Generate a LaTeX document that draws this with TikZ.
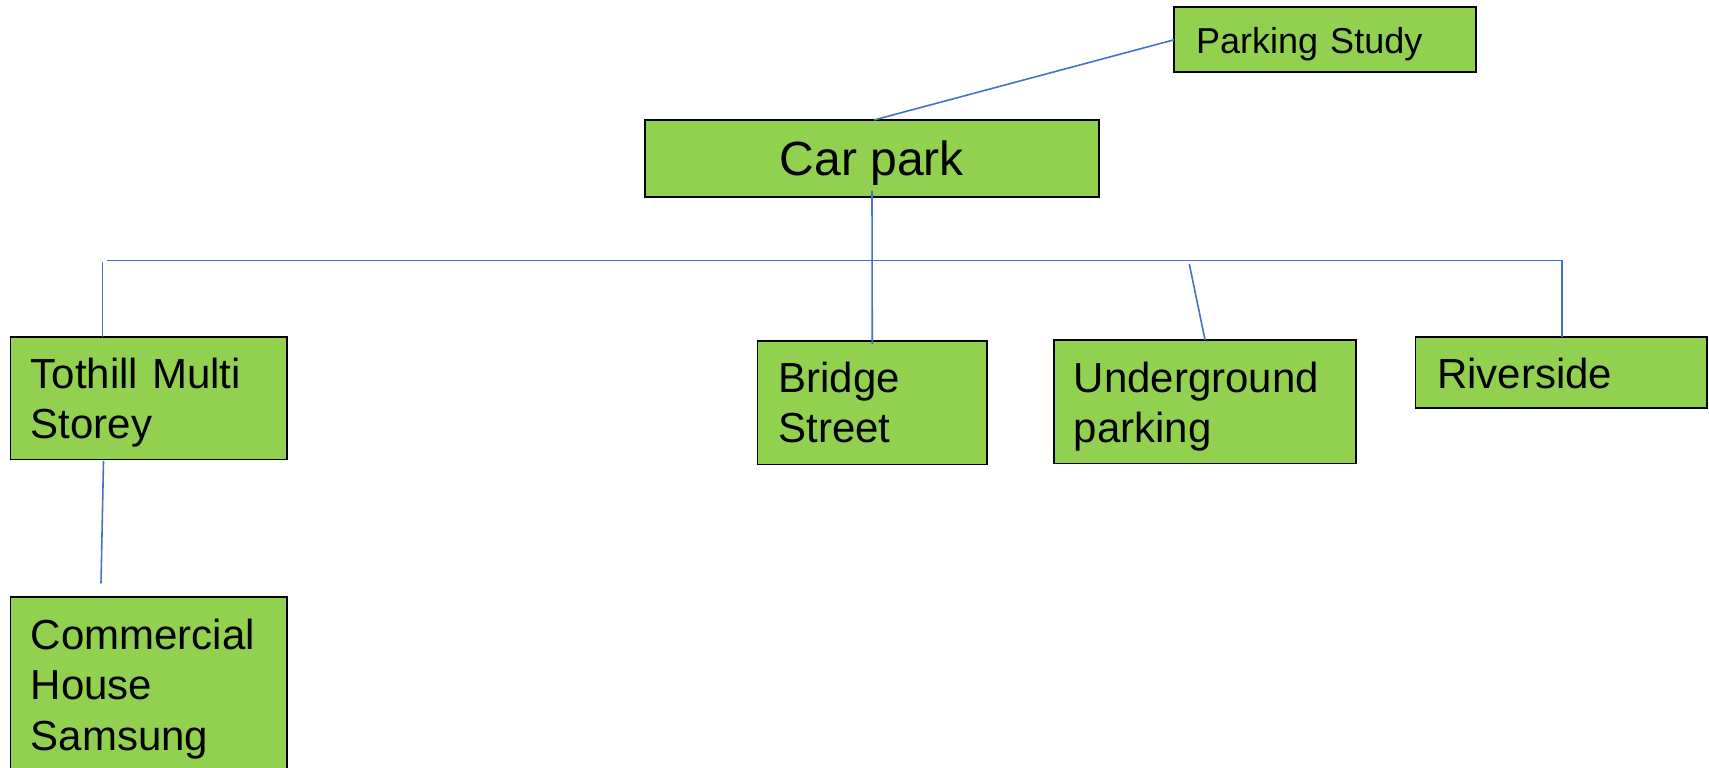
\documentclass[tikz,border=0pt]{standalone}
\usepackage{fontspec}
\setmainfont{Liberation Sans}
\usetikzlibrary{calc}
\definecolor{boxgreen}{HTML}{92D050}
\definecolor{linkblue}{HTML}{4472C4}

\begin{document}
\begin{tikzpicture}[x=1pt,y=-1pt,
  box/.style={draw=black, line width=1.8pt, fill=boxgreen, rectangle,
              inner sep=0pt, outer sep=0pt, anchor=north west},
  lbl/.style={inner sep=0pt, anchor=base west, align=left, text width=270pt,
              font=\fontsize{42}{50.5}\selectfont},
  link/.style={draw=linkblue, line width=1.6pt}]

\useasboundingbox (0,0) rectangle (1709,768);
\clip (0,0) rectangle (1709,768);

% boxes
\node[box, minimum width=302pt, minimum height=65pt]    (ps)  at (1174,7.3)   {};
\node[box, minimum width=454pt, minimum height=77pt]    (cp)  at (645,120)    {};
\node[box, minimum width=276.5pt, minimum height=122.8pt] (tot) at (10.5,336.7) {};
\node[box, minimum width=276.5pt, minimum height=185pt] (com) at (10.5,597)   {};
\node[box, minimum width=229.5pt, minimum height=123.5pt] (bs)  at (757.5,341)  {};
\node[box, minimum width=302pt, minimum height=123.7pt] (ug)  at (1054,339.7) {};
\node[box, minimum width=291.5pt, minimum height=71.2pt]  (rv)  at (1415.5,337) {};

% texts
\node[lbl, font=\fontsize{36}{43}\selectfont] at ([shift={(22,46)}]ps.north west) {Parking Study};
\node[inner sep=0pt, anchor=base, font=\fontsize{48}{58}\selectfont] at ([shift={(0,55.7)}]cp.north) {Car park};
\node[lbl] at ([shift={(20.1,51.4)}]tot.north west) {Tothill Multi\\Storey};
\node[lbl] at ([shift={(20.1,52)}]com.north west) {Commercial\\House\\Samsung};
\node[lbl] at ([shift={(20.8,51)}]bs.north west) {Bridge\\Street};
\node[lbl] at ([shift={(19.7,52.3)}]ug.north west) {Underground\\parking};
\node[lbl] at ([shift={(21.5,51)}]rv.north west) {Riverside};

% connector end points
\coordinate (busL)   at (107,260.5);
\coordinate (busR)   at (1562,260.5);
\coordinate (stubT)  at (102.5,261.8);
\coordinate (ugT)    at (1189.3,264);
\coordinate (comT)   at (101,583.4);

% connectors
\draw[link] (ps.west) -- ([xshift=2pt]cp.north);
\draw[link] ([yshift=6.5pt]cp.south) -- ([yshift=-3pt]bs.north);
\draw[link] (busL) -- (busR) -- (busR |- rv.north);
\draw[link] (stubT) -- (stubT |- tot.north);
\draw[link] (ugT) -- (ug.north);
\draw[link] ([xshift=93pt,yshift=-1.5pt]tot.south west) -- (comT);
\end{tikzpicture}
\end{document}
